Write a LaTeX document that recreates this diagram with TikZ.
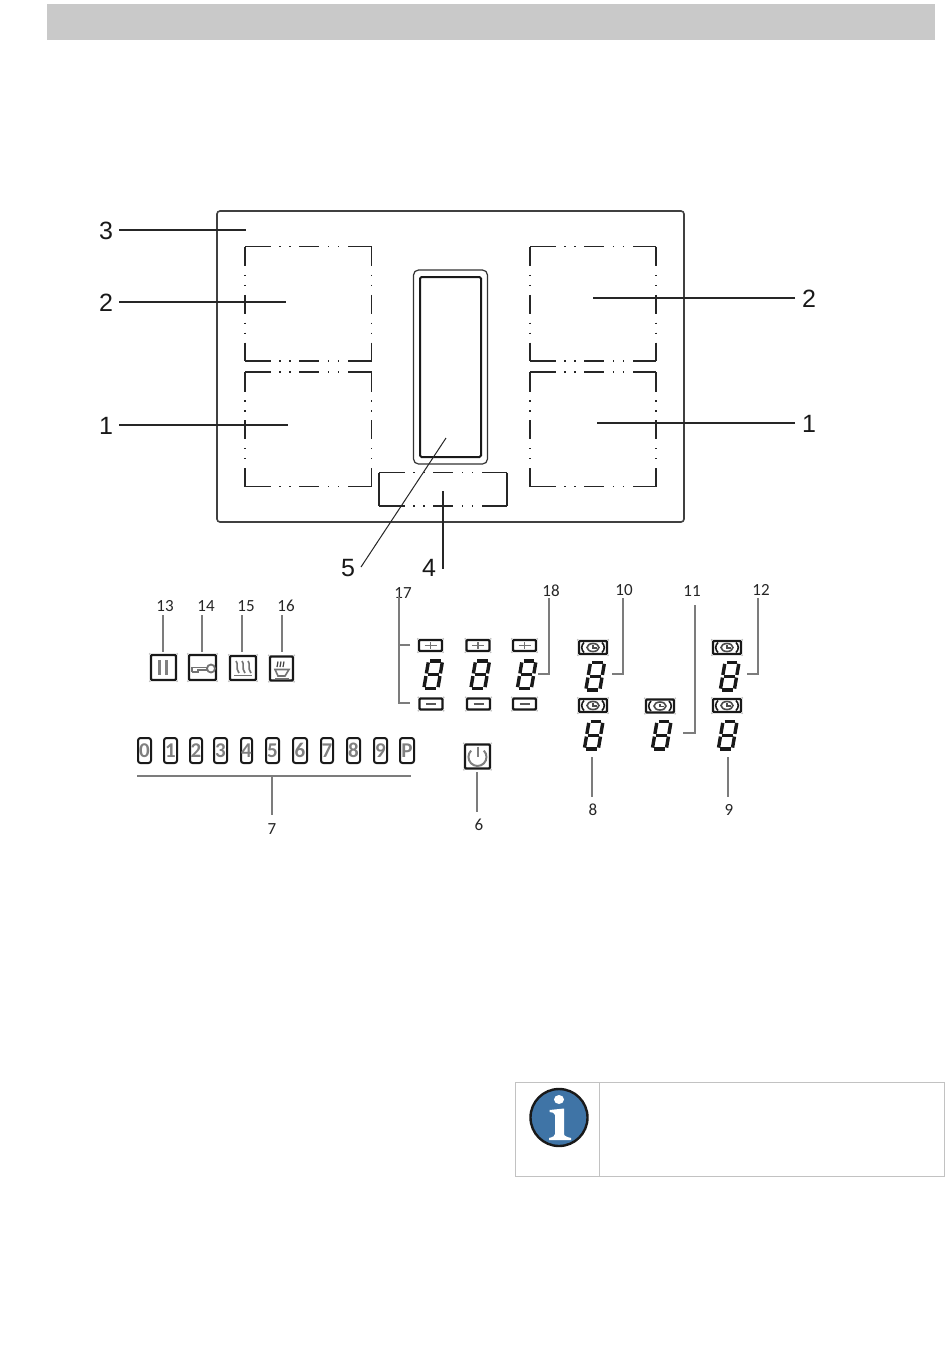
\documentclass[tikz,border=0pt]{standalone}
\usepackage{fontspec}
\setmainfont{Liberation Sans}
\newfontfamily\numfont{Carlito}
\definecolor{hdr}{HTML}{C9C9C9}
\definecolor{lead}{HTML}{7C7C7C}
\definecolor{infoblue}{HTML}{3F74A6}
\definecolor{boxline}{HTML}{C2C2C2}
\tikzset{
  x=1pt,y=-1pt,
  bigline/.style={draw=black!85,line width=1.2pt},
  zoneh/.style={draw=black!85,line width=1.5pt,dash pattern=on 25.5pt off 8.8pt on 1.2pt off 8.8pt on 1.2pt off 8.8pt on 20pt off 8.8pt on 1.2pt off 8.8pt on 1.2pt off 8.8pt on 26pt off 200pt},
  zonev/.style={draw=black!85,line width=1.5pt,dash pattern=on 19.5pt off 8.8pt on 1.2pt off 8.8pt on 1.2pt off 8.8pt on 19pt off 8.8pt on 1.2pt off 8.8pt on 1.2pt off 8.8pt on 20pt off 200pt},
  biglabel/.style={font=\fontsize{25}{25}\selectfont,inner sep=0pt,text=black!90},
  smalllabel/.style={font=\numfont\fontsize{17}{17}\selectfont,inner sep=0pt,text=black!85},
  leader/.style={draw=lead,line width=1.5pt},
  segm/.style={draw=black!90,line width=3.4pt},
  btn/.style={draw=black!90,line width=2.4pt,fill=white,inner sep=0pt,rounded corners=1pt},
  numbtn/.style={btn,line width=2pt,rounded corners=2.5pt,text=black!50,font=\numfont\bfseries\fontsize{21}{21}\selectfont},
  glyph/.style={draw=black!55,line width=1.8pt},
}
\newcommand{\zonebox}[4]{% x1 y1 x2 y2
  \draw[zoneh] (#1,#2) -- (#3,#2);
  \draw[zoneh] (#1,#4) -- (#3,#4);
  \draw[zonev] (#1,#2) -- (#1,#4);
  \draw[zonev] (#3,#2) -- (#3,#4);
}
\newcommand{\segdigit}[3]{% name, origin x, y
  \begin{scope}[shift={(#2,#3)},xslant=0.17,local bounding box=#1]
    \draw[segm] (1.6,0) -- (12.4,0);
    \draw[segm] (0,1.4) -- (0,12.4);
    \draw[segm] (14,1.4) -- (14,12.4);
    \draw[segm] (1.6,13.75) -- (12.4,13.75);
    \draw[segm] (0,15.1) -- (0,26.1);
    \draw[segm] (14,15.1) -- (14,26.1);
    \draw[segm] (1.6,27.5) -- (12.4,27.5);
  \end{scope}
}
\newcommand{\corners}[1]{%
  \foreach \c in {north west,north east,south west,south east}{
    \fill[black!25] (#1.\c) circle (1pt);
  }
}
\newcommand{\plusbtn}[3]{% name cx cy
  \node[btn,minimum width=23pt,minimum height=11pt] (#1) at (#2,#3) {};
  \corners{#1}
  \draw[glyph] (#2-6,#3) -- (#2+6,#3) (#2,#3-3.5) -- (#2,#3+3.5);
}
\newcommand{\minusbtn}[3]{%
  \node[btn,minimum width=23pt,minimum height=11pt] (#1) at (#2,#3) {};
  \corners{#1}
  \draw[glyph,draw=black!65] (#2-5,#3) -- (#2+5,#3);
}
\newcommand{\timerbtn}[3]{%
  \node[btn,minimum width=28pt,minimum height=13pt] (#1) at (#2,#3) {};
  \corners{#1}
  \draw[draw=black!90,line width=1.6pt] (#2-9,#3-5) .. controls (#2-12,#3-2) and (#2-12,#3+2) .. (#2-9,#3+5);
  \draw[draw=black!90,line width=1.6pt] (#2+9,#3-5) .. controls (#2+12,#3-2) and (#2+12,#3+2) .. (#2+9,#3+5);
  \draw[draw=black!70,line width=1.6pt] (#2,#3) ellipse (6pt and 4pt);
  \draw[draw=black!70,line width=1.3pt] (#2,#3-2.5) -- (#2,#3+.5) -- (#2+4,#3+.5);
}
\newcommand{\numbtn}[4]{% name x1 x2 text
  \node[numbtn,minimum width=#3-#2,minimum height=25pt,text width=#3-#2,align=center] (#1) at ({(#2+#3)/2},750.5) {#4};
}
\begin{document}
\begin{tikzpicture}
\useasboundingbox (0,0) rectangle (950,1369);
\fill[white] (0,0) rectangle (950,1369);
% header
\fill[hdr] (47,4) rectangle (935,40);
% cooktop
\draw[draw=black!75,line width=1.6pt,rounded corners=3pt] (217,211) rectangle (684,522);
\zonebox{245}{246.5}{371.5}{361}
\zonebox{245}{372}{371.5}{486.5}
\zonebox{530}{246.5}{656}{361}
\zonebox{530}{372}{656}{486.5}
\draw[draw=black!80,line width=1.2pt,rounded corners=5pt] (413.5,270) rectangle (487.5,464);
\draw[draw=black!90,line width=2pt,rounded corners=1.5pt] (420,277) rectangle (481,457);
\draw[zoneh,line width=1.2pt] (379,472.5) -- (507,472.5);
\draw[zoneh,line width=1.2pt] (379,506) -- (507,506);
\draw[bigline] (379,472.5) -- (379,506);
\draw[bigline] (507,472.5) -- (507,506);
% big labels
\node[biglabel] (n3) at (106,231) {3};
\node[biglabel] (n2l) at (106,303) {2};
\node[biglabel] (n1l) at (106,426) {1};
\node[biglabel] (n2r) at (809,299) {2};
\node[biglabel] (n1r) at (809,424) {1};
\node[biglabel] (n5) at (348,568) {5};
\node[biglabel] (n4) at (429,568) {4};
\coordinate (e3) at (246,230);
\coordinate (e2l) at (286,302);
\coordinate (e1l) at (288,425);
\coordinate (e2r) at (593,298);
\coordinate (e1r) at (597,423);
\coordinate (e5) at (446,438);
\coordinate (e5b) at (361,567);
\coordinate (e4) at (443,491);
\coordinate (e4b) at (443,569);
\draw[bigline] (119,230) -- (e3);
\draw[bigline] (119,302) -- (e2l);
\draw[bigline] (119,425) -- (e1l);
\draw[bigline] (795,298) -- (e2r);
\draw[bigline] (795,423) -- (e1r);
\draw[bigline,line width=1pt] (e5) -- (e5b);
\draw[bigline,line width=1.5pt] (e4) -- (e4b);
% function buttons
\node[btn,minimum width=25pt,minimum height=25pt] (b13) at (163.5,667.5) {};
\node[btn,minimum width=27pt,minimum height=25pt] (b14) at (202.5,667.5) {};
\node[btn,minimum width=26pt,minimum height=24pt] (b15) at (243,668) {};
\node[btn,minimum width=23pt,minimum height=24pt] (b16) at (281.5,668.5) {};
\foreach \n in {b13,b14,b15,b16}{\corners{\n}}
\draw[draw=black!50,line width=2.6pt] (159.5,660) -- (159.5,675) (166.5,660) -- (166.5,675);
\draw[glyph] (192,672) -- (192,667.5) -- (208,667.5) (192,672) -- (198,672) -- (198,670) -- (208,670);
\draw[glyph] (211,668.5) circle (4pt);
\draw[glyph,line width=1.6pt] (234,675.5) -- (252,675.5);
\foreach \x in {236,242,248}{
  \draw[glyph,line width=1.6pt] (\x,661) .. controls (\x+3,664) and (\x-1,668) .. (\x+3,673);
}
\foreach \x in {278,281,284}{
  \draw[draw=black!75,line width=1.2pt] (\x,661.5) -- (\x-1,667);
}
\draw[glyph,line width=1.6pt] (275,669.5) -- (289,669.5) -- (285,676) -- (278,676) -- cycle;
\draw[glyph,line width=1.3pt] (275,678.5) -- (289,678.5);
\node[smalllabel] (l13) at (165,606) {13};
\node[smalllabel] (l14) at (206,606) {14};
\node[smalllabel] (l15) at (246,606) {15};
\node[smalllabel] (l16) at (286,606) {16};
\draw[leader] (163,615) -- (163,652);
\draw[leader] (202,615) -- (202,652);
\draw[leader] (242,615) -- (242,652);
\draw[leader] (282,615) -- (282,652);
% number row
\numbtn{k0}{138}{151}{0}
\numbtn{k1}{164}{177}{1}
\numbtn{k2}{190}{202}{2}
\numbtn{k3}{214}{227}{3}
\numbtn{k4}{241}{252}{4}
\numbtn{k5}{266}{279}{5}
\numbtn{k6}{293}{307}{6}
\numbtn{k7}{321}{333}{7}
\numbtn{k8}{347}{360}{8}
\numbtn{k9}{374}{387}{9}
\numbtn{kP}{400}{414}{P}
\coordinate (bar) at (272,776);
\draw[leader] (137,776) -- (411,776);
\node[smalllabel] (l7) at (272,829) {7};
\draw[leader] (bar) -- (272,815);
% power
\node[btn,minimum width=25pt,minimum height=24pt] (pw) at (477.5,756.5) {};
\corners{pw}
\draw[draw=black!50,line width=2pt] (471.1,750.6) arc[start angle=135,end angle=405,radius=9pt];
\draw[draw=black!50,line width=2pt] (477.5,746.5) -- (477.5,757);
\node[smalllabel] (l6) at (479,825) {6};
\draw[leader] (477,772) -- (477,812);
% plus / minus / digits
\plusbtn{p1}{430.5}{645.5}
\plusbtn{p2}{478}{645.5}
\plusbtn{p3}{524.5}{645.5}
\minusbtn{m1}{431}{704}
\minusbtn{m2}{478.5}{704}
\minusbtn{m3}{524.5}{704}
\segdigit{d1}{428.5}{661}
\segdigit{d2}{475.5}{661}
\segdigit{d3}{522}{661}
\segdigit{d10}{590.5}{662.5}
\segdigit{d8}{589}{721.5}
\segdigit{d11}{657}{721.5}
\segdigit{d12}{725}{662.5}
\segdigit{d9}{723}{721.5}
\timerbtn{t10}{593}{647.5}
\timerbtn{t8}{593}{705.5}
\timerbtn{t11}{660}{706}
\timerbtn{t12}{727}{647.5}
\timerbtn{t9}{727}{705.5}
% small leaders
\node[smalllabel] (l17) at (403,593) {17};
\node[smalllabel] (l18) at (551,591) {18};
\node[smalllabel] (l10) at (624,590) {10};
\node[smalllabel] (l11) at (692,591) {11};
\node[smalllabel] (l12) at (761,590) {12};
\node[smalllabel] (l8) at (593,810) {8};
\node[smalllabel] (l9) at (729,810) {9};
\draw[leader] (410,645) -- (399,645) -- (399,597);
\draw[leader] (399,645) -- (399,703) -- (410,703);
\draw[leader] (538,674) -- (549,674) -- (549,598);
\draw[leader] (612,674) -- (623,674) -- (623,598);
\draw[leader] (683,733) -- (695,733) -- (695,605);
\draw[leader] (747,674) -- (758,674) -- (758,598);
\draw[leader] (592,757) -- (592,797);
\draw[leader] (728,757) -- (728,797);
% info box
\draw[draw=boxline,line width=1pt] (515,1082) rectangle (944,1176);
\draw[draw=boxline,line width=1pt] (599,1082) -- (599,1176);
\draw[fill=infoblue,draw=black!90,line width=2.4pt] (559,1117.5) circle (28.5pt);
\fill[white] (559,1099.5) ellipse (5pt and 4.5pt);
\fill[white] (549.5,1110) -- (564,1108.5) -- (564,1134) .. controls (564,1136) and (567,1137) .. (571,1138) -- (571,1140) -- (549,1140) -- (549,1138) .. controls (553,1137) and (555,1136) .. (555,1134) -- (555,1115) .. controls (555,1113) and (552,1112) .. (549.5,1112) -- cycle;
\end{tikzpicture}
\end{document}
